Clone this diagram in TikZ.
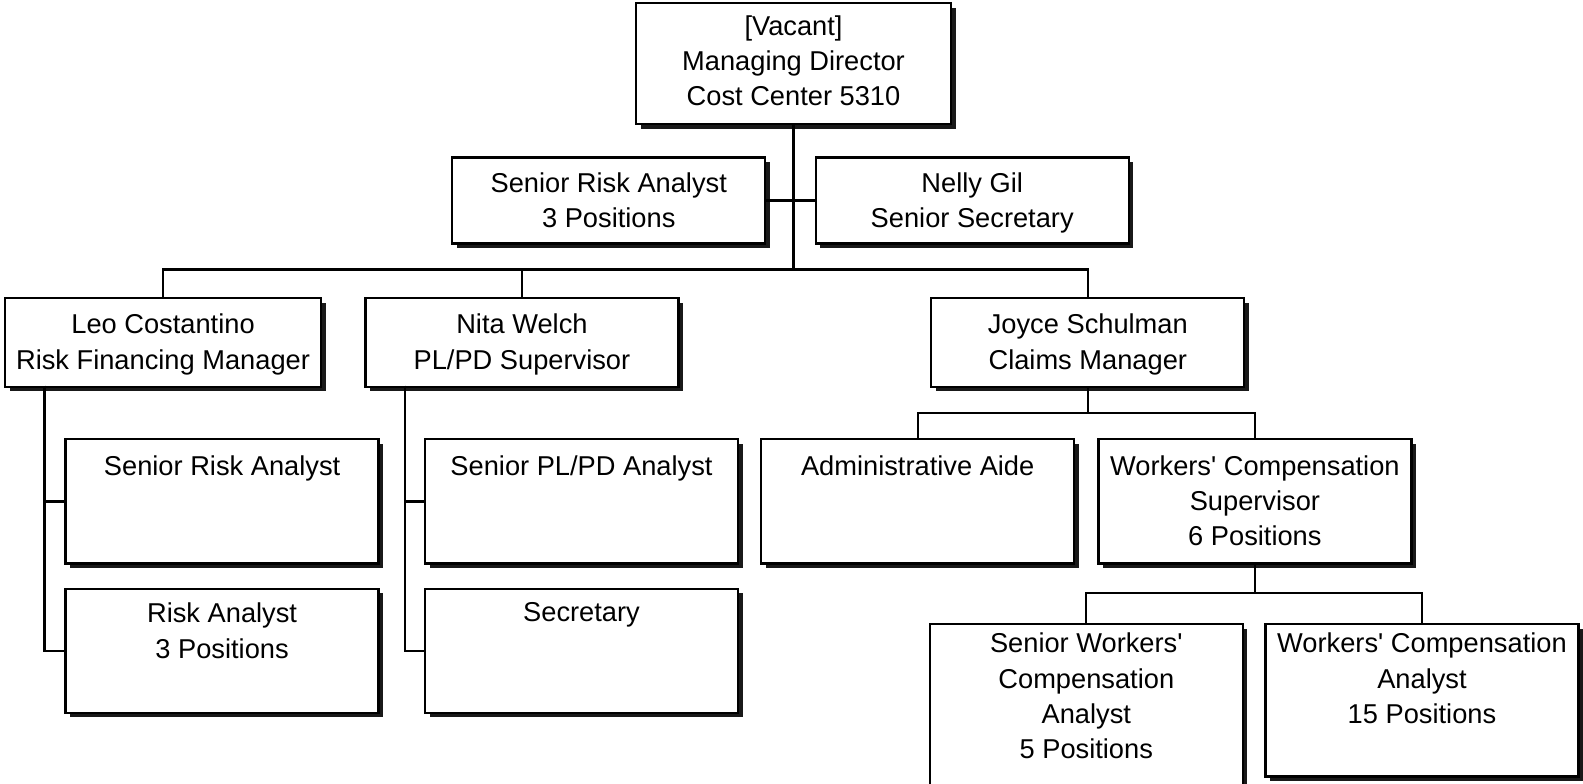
\documentclass[tikz,border=0pt]{standalone}
\usepackage{fontspec}
\setmainfont{Liberation Sans}
\usetikzlibrary{shadows}
\begin{document}
\begin{tikzpicture}[x=1pt,y=-1pt,
  orgbox/.style={draw=black, line width=2.3pt, fill=white, rectangle, inner sep=0pt,
    minimum width=310pt, anchor=north,
    drop shadow={shadow xshift=4.5pt, shadow yshift=-4.5pt, fill=black, opacity=0.9}},
  lbl/.style={anchor=north, align=center, inner sep=0pt, font=\fontsize{27}{35}\selectfont},
  conn/.style={line width=2.2pt}]
\useasboundingbox (0,0) rectangle (1568,776);

% boxes
\node[orgbox, minimum width=312pt, minimum height=120pt] (md) at (786,2) {};
\node[lbl] (md-l) at (786,15) {[Vacant]\\Managing Director\\Cost Center 5310};

\node[orgbox, minimum height=85pt] (sra) at (603,155) {};
\node[lbl] (sra-l) at (603,171) {Senior Risk Analyst\\3 Positions};
\node[orgbox, minimum height=85pt] (nelly) at (963,155) {};
\node[lbl] (nelly-l) at (963,171) {Nelly Gil\\Senior Secretary};

\node[orgbox, minimum width=313pt, minimum height=88pt] (leo) at (161.5,294) {};
\node[lbl] (leo-l) at (161.5,311) {Leo Costantino\\Risk Financing Manager};
\node[orgbox, minimum height=88pt] (nita) at (517,294) {};
\node[lbl] (nita-l) at (517,311) {Nita Welch\\PL/PD Supervisor};
\node[orgbox, minimum height=88pt] (joyce) at (1077.5,294) {};
\node[lbl] (joyce-l) at (1077.5,311) {Joyce Schulman\\Claims Manager};

\node[orgbox, minimum height=123pt] (sra2) at (220,434) {};
\node[lbl] (sra2-l) at (220,451) {Senior Risk Analyst};
\node[orgbox, minimum height=123pt] (ra) at (220,582) {};
\node[lbl] (ra-l) at (220,597) {Risk Analyst\\3 Positions};

\node[orgbox, minimum height=123pt] (splpd) at (576,434) {};
\node[lbl] (splpd-l) at (576,451) {Senior PL/PD Analyst};
\node[orgbox, minimum height=123pt] (sec) at (576,582) {};
\node[lbl] (sec-l) at (576,597) {Secretary};

\node[orgbox, minimum height=123pt] (aide) at (909,434) {};
\node[lbl] (aide-l) at (909,451) {Administrative Aide};
\node[orgbox, minimum height=123pt] (wcs) at (1243,434) {};
\node[lbl] (wcs-l) at (1243,451) {Workers\textquotesingle{} Compensation\\Supervisor\\6 Positions};

\node[orgbox, minimum height=172pt] (swca) at (1076,617) {};
\node[lbl] (swca-l) at (1076,627) {Senior Workers\textquotesingle\\Compensation\\Analyst\\5 Positions};
\node[orgbox, minimum height=151pt] (wca) at (1408.5,617) {};
\node[lbl] (wca-l) at (1408.5,627) {Workers\textquotesingle{} Compensation\\Analyst\\15 Positions};

% connectors
\coordinate (mdbus) at (786,267);
\draw[conn] (md.south) -- (mdbus);
\draw[conn] (sra.east) -- (nelly.west);
\draw[conn] (leo.north) |- (mdbus) -| (joyce.north);
\draw[conn] (nita.north) -- (nita.north |- mdbus);

\coordinate (leov) at (44,382);
\draw[conn] (leov) |- (sra2.west);
\draw[conn] (leov) |- (ra.west);
\coordinate (nitav) at (401,382);
\draw[conn] (nitav) |- (splpd.west);
\draw[conn] (nitav) |- (sec.west);

\coordinate (jbus) at (1077.5,409);
\draw[conn] (joyce.south) -- (jbus);
\draw[conn] (aide.north) |- (jbus) -| (wcs.north);

\coordinate (wbus) at (1243,587);
\draw[conn] (wcs.south) -- (wbus);
\draw[conn] (swca.north) |- (wbus) -| (wca.north);
\end{tikzpicture}
\end{document}
